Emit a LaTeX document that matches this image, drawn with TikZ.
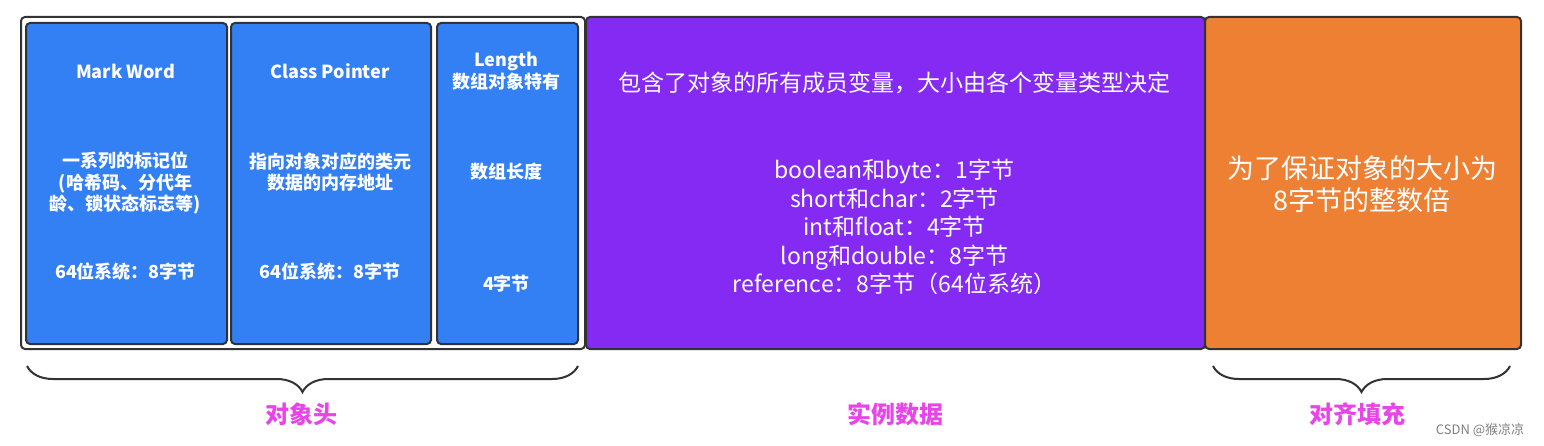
\documentclass[tikz,border=0pt]{standalone}
\usepackage{fontspec}
\setmainfont{Noto Sans CJK SC}
\usetikzlibrary{positioning}
\usetikzlibrary{calc}
\usetikzlibrary{decorations.pathreplacing}

\definecolor{fieldblue}{HTML}{3380F5}
\definecolor{datapurple}{HTML}{842AF2}
\definecolor{padorange}{HTML}{ED8033}
\definecolor{edgegray}{HTML}{333333}
\definecolor{lblpink}{HTML}{E845E8}

\tikzset{
  part/.style={draw=edgegray, line width=2pt, rounded corners=4pt, anchor=north west, inner sep=0pt},
  hdrtxt/.style={text=white, align=center, inner sep=0pt, font=\bfseries\fontsize{18}{21.5}\selectfont},
  datatxt/.style={text=white, align=center, inner sep=0pt, font=\fontsize{23}{28.5}\selectfont},
  padtxt/.style={text=white, align=center, inner sep=0pt, font=\fontsize{27}{32}\selectfont},
  grplbl/.style={text=lblpink, inner sep=0pt, font=\bfseries\fontsize{24}{24}\selectfont},
  brace/.style={draw=edgegray, line width=2pt, decorate, decoration={brace, amplitude=26pt}},
}

\begin{document}
\begin{tikzpicture}[x=1pt, y=-1pt]
    \useasboundingbox (0,0) rectangle (1544,446);

    % object header
    \node[part, fill=white, minimum width=564pt, minimum height=332pt] (hdr) at (20,16) {};
    \node[part, fill=fieldblue, minimum width=201pt, minimum height=321pt] (mw) at (25,22) {};
    \node[part, fill=fieldblue, minimum width=200pt, minimum height=321pt] (cp) at (230,22) {};
    \node[part, fill=fieldblue, minimum width=141pt, minimum height=321pt] (len) at (436,22) {};

    \node[hdrtxt] (mwname) at (125.5,71) {Mark Word};
    \node[hdrtxt] (mwbits) at (125.5,183) {一系列的标记位\\(哈希码、分代年\\龄、锁状态标志等)};
    \node[hdrtxt] (mwsize) at (125.5,272) {64位系统：8字节};

    \node[hdrtxt] (cpname) at (330,71) {Class Pointer};
    \node[hdrtxt] (cpaddr) at (330,172) {指向对象对应的类元\\数据的内存地址};
    \node[hdrtxt] (cpsize) at (330,272) {64位系统：8字节};

    \node[hdrtxt] (lenname) at (506.5,71) {Length\\数组对象特有};
    \node[hdrtxt] (lenval) at (506.5,172) {数组长度};
    \node[hdrtxt] (lensize) at (506.5,284) {4字节};

    % instance data
    \node[part, fill=datapurple, minimum width=619pt, minimum height=332pt] (data) at (585,16) {};
    \node[datatxt] (datadesc) at (894.5,83) {包含了对象的所有成员变量，大小由各个变量类型决定};
    \node[datatxt] (datatypes) at (894.5,227) {boolean和byte：1字节\\short和char：2字节\\int和float：4字节\\long和double：8字节\\reference：8字节（64位系统）};

    % padding
    \node[part, fill=padorange, minimum width=316pt, minimum height=332pt] (pad) at (1204,16) {};
    \node[padtxt] (padtext) at (1362,184) {为了保证对象的大小为\\8字节的整数倍};

    % braces and labels
    \coordinate (hdrl) at (27,366);
    \coordinate (hdrr) at (578,366);
    \coordinate (padl) at (1213,366);
    \coordinate (padr) at (1510,366);
    \draw[brace] (hdrr) -- (hdrl);
    \draw[brace] (padr) -- (padl);

    \node[grplbl] (hdrlbl) at (301,414) {对象头};
    \node[grplbl] (datalbl) at (895,414) {实例数据};
    \node[grplbl] (padlbl) at (1357,414) {对齐填充};

    \node[text=gray, inner sep=0pt, font=\fontsize{13}{13}\selectfont] (mark) at (1480,430) {CSDN @猴凉凉};
\end{tikzpicture}
\end{document}
